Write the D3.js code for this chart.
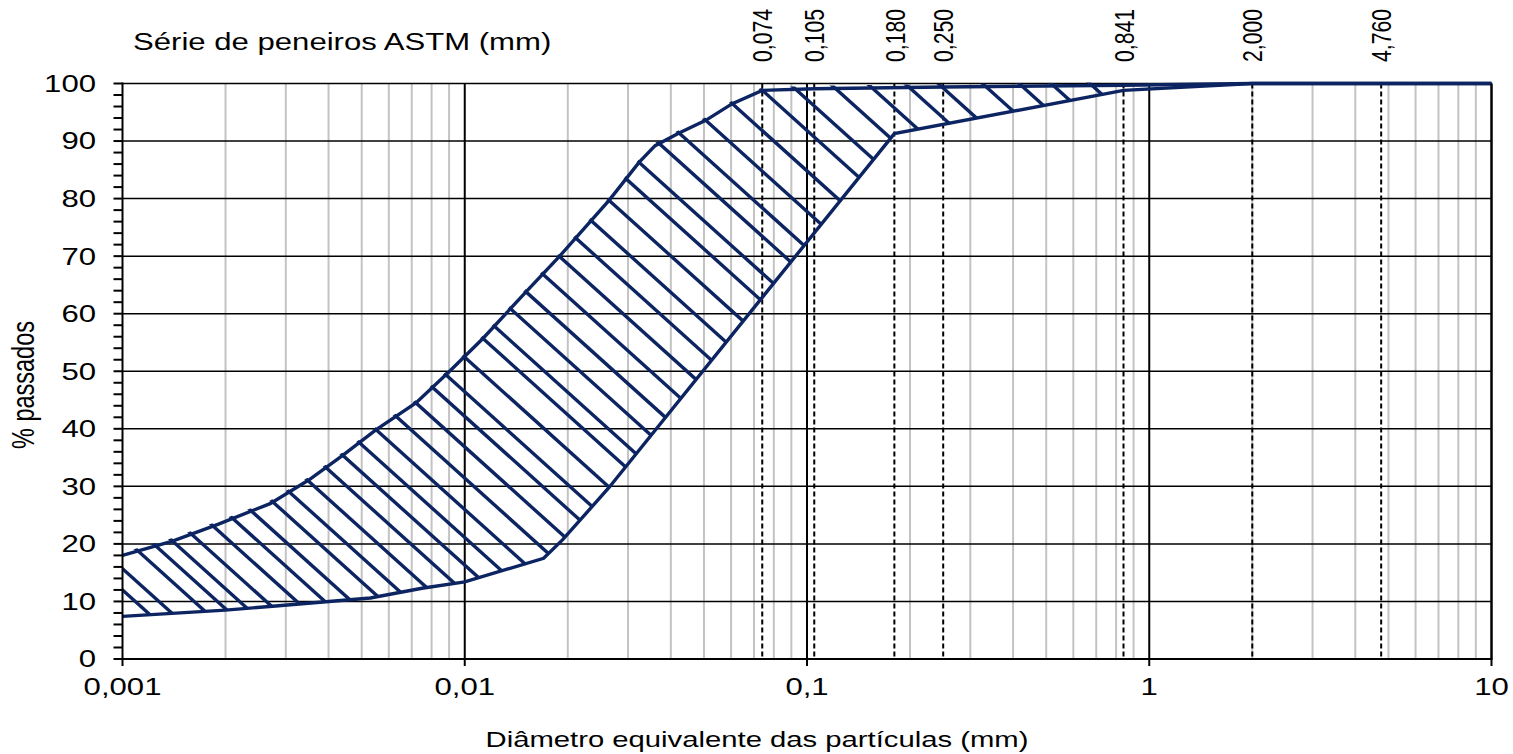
<!DOCTYPE html>
<html>
<head>
<meta charset="utf-8">
<script src="https://cdn.jsdelivr.net/npm/d3@7"></script>
<style>
  html, body { margin: 0; padding: 0; background: #fff; }
  svg { display: block; }
</style>
</head>
<body>
<svg id="chart" width="1513" height="754"></svg>
<script>
// Upper limit of the grading band: diameter (mm) and % passing
const upperX   = [0.001, 0.0014, 0.0019, 0.0027, 0.0035, 0.0044, 0.0055, 0.0072, 0.009, 0.0113, 0.0151, 0.019, 0.0264, 0.0323, 0.036, 0.0423, 0.0506, 0.0605, 0.074, 0.105, 0.25, 0.841, 2.0, 10];
const upperPct = [18.0, 20.5, 23.4, 27.0, 31.1, 35.4, 39.8, 44.5, 49.9, 55.7, 63.8, 70.1, 79.7, 86.3, 89.2, 91.4, 93.6, 96.5, 98.8, 99.1, 99.4, 99.7, 100, 100];

// Lower limit of the grading band
const lowerX   = [0.001, 0.002, 0.0028, 0.0053, 0.0075, 0.01, 0.017, 0.0193, 0.0264, 0.18, 0.841, 2.0, 10];
const lowerPct = [7.4, 8.5, 9.2, 10.6, 12.3, 13.4, 17.5, 20.7, 29.8, 91.3, 98.8, 100, 100];

// ASTM sieve openings (mm)
const sieveSizes  = [0.074, 0.105, 0.180, 0.250, 0.841, 2.000, 4.760];
const sieveLabels = ["0,074", "0,105", "0,180", "0,250", "0,841", "2,000", "4,760"];

// Axis ticks
const xTickValues = [0.001, 0.01, 0.1, 1, 10];
const xTickLabels = ["0,001", "0,01", "0,1", "1", "10"];
const yTickValues = [0, 10, 20, 30, 40, 50, 60, 70, 80, 90, 100];

// Hatching: diameters where each hatch stroke meets the upper limit,
// plus strokes that start on the left edge (% passing at 0,001 mm)
const hatchAnchors = [0.00111, 0.00125, 0.00140, 0.00159, 0.00184, 0.00210, 0.00238, 0.00275, 0.00307, 0.00348,
                      0.00393, 0.00440, 0.00492, 0.00551, 0.00630, 0.00720, 0.00805, 0.00881, 0.00997, 0.0113,
                      0.0122, 0.0136, 0.0151, 0.0169, 0.0189, 0.0211, 0.0234, 0.0264, 0.0296, 0.0323,
                      0.0370, 0.0423, 0.0506, 0.0605, 0.0741, 0.0927, 0.121, 0.155, 0.199, 0.248,
                      0.333, 0.425, 0.526, 0.681];
const hatchEdgePct = [15.7, 12.0];

const FONT = '"Liberation Sans", Arial, Helvetica, sans-serif';
const STRETCH = 1.33;          // glyphs are drawn wide
const NAVY = "#0c2461";

const svg = d3.select("#chart");

const x = d3.scaleLog().domain([0.001, 10]).range([122.5, 1491.5]);
const y = d3.scaleLinear().domain([0, 100]).range([659, 83.5]);
const [xL, xR] = x.range();
const [yB, yT] = y.range();

// piecewise interpolation of the upper limit (log diameter)
const upperAt = d3.scaleLog().domain(upperX).range(upperPct);

// ---------- grid ----------
const grid = svg.append("g");

// minor verticals (2..9 in each decade)
const minorX = [];
[0.001, 0.01, 0.1, 1].forEach(dec => { for (let k = 2; k <= 9; k++) minorX.push(k * dec); });
grid.selectAll("line.minor").data(minorX).join("line")
  .attr("x1", d => x(d)).attr("x2", d => x(d))
  .attr("y1", yT).attr("y2", yB)
  .attr("stroke", "#c3c3c3").attr("stroke-width", 2);

// horizontal gridlines
grid.selectAll("line.h").data(yTickValues.filter(v => v > 0)).join("line")
  .attr("x1", xL).attr("x2", xR)
  .attr("y1", d => y(d)).attr("y2", d => y(d))
  .attr("stroke", "#000").attr("stroke-width", 1.5);

// decade verticals
grid.selectAll("line.major").data(xTickValues.slice(1)).join("line")
  .attr("x1", d => x(d)).attr("x2", d => x(d))
  .attr("y1", yT).attr("y2", yB)
  .attr("stroke", "#000").attr("stroke-width", 2);

// sieve openings (dashed)
grid.selectAll("line.sieve").data(sieveSizes).join("line")
  .attr("x1", d => x(d)).attr("x2", d => x(d))
  .attr("y1", yT).attr("y2", yB)
  .attr("stroke", "#000").attr("stroke-width", 2)
  .attr("stroke-dasharray", "5,3");

// ---------- hatching ----------
const upperPts = upperX.map((v, i) => [x(v), y(upperPct[i])]);
const lowerPts = lowerX.map((v, i) => [x(v), y(lowerPct[i])]);

// strokes poke slightly above the upper limit
const clipPoly = upperPts.map(p => [p[0], p[1] - 3]).concat(lowerPts.slice().reverse());
svg.append("clipPath").attr("id", "band")
  .append("path").attr("d", "M" + clipPoly.map(p => p.join(",")).join("L") + "Z");

const ang = 42 * Math.PI / 180;
const dx = Math.cos(ang), dy = Math.sin(ang), L = 700;
const hatchPts = hatchAnchors.map(v => [x(v), y(upperAt(v))])
  .concat(hatchEdgePct.map(p => [xL, y(p)]));

svg.append("g").attr("clip-path", "url(#band)")
  .selectAll("line").data(hatchPts).join("line")
  .attr("x1", p => p[0] - dx * L).attr("y1", p => p[1] - dy * L)
  .attr("x2", p => p[0] + dx * L).attr("y2", p => p[1] + dy * L)
  .attr("stroke", NAVY).attr("stroke-width", 3.4);

// ---------- band limits ----------
const line = d3.line().x(d => x(d[0])).y(d => y(d[1]));
svg.append("path")
  .attr("d", line(upperX.map((v, i) => [v, upperPct[i]])))
  .attr("fill", "none").attr("stroke", NAVY).attr("stroke-width", 3.4)
  .attr("stroke-linejoin", "miter");
svg.append("path")
  .attr("d", line(lowerX.map((v, i) => [v, lowerPct[i]])))
  .attr("fill", "none").attr("stroke", NAVY).attr("stroke-width", 3.4)
  .attr("stroke-linejoin", "miter");

// ---------- axes ----------
const axes = svg.append("g");
axes.append("line").attr("x1", xL).attr("x2", xL).attr("y1", yT - 1).attr("y2", yB + 1)
  .attr("stroke", "#000").attr("stroke-width", 2);
axes.append("line").attr("x1", xR).attr("x2", xR).attr("y1", yT).attr("y2", yB)
  .attr("stroke", "#000").attr("stroke-width", 2);
axes.append("line").attr("x1", xL - 1).attr("x2", xR + 1).attr("y1", yB).attr("y2", yB)
  .attr("stroke", "#000").attr("stroke-width", 2);

// y ticks every 2 %
axes.selectAll("line.yt").data(d3.range(0, 101, 2)).join("line")
  .attr("x1", xL - 9).attr("x2", xL)
  .attr("y1", d => y(d)).attr("y2", d => y(d))
  .attr("stroke", "#000").attr("stroke-width", 2);

// x ticks at decades
axes.selectAll("line.xt").data(xTickValues).join("line")
  .attr("x1", d => x(d)).attr("x2", d => x(d))
  .attr("y1", yB).attr("y2", yB + 7)
  .attr("stroke", "#000").attr("stroke-width", 2);

// ---------- text ----------
function txt(str, tx, ty, size, anchor, rotated, dyEm) {
  const t = svg.append("text")
    .attr("transform", `translate(${tx},${ty}) scale(${STRETCH},1)` + (rotated ? " rotate(-90)" : ""))
    .attr("text-anchor", anchor)
    .attr("font-family", FONT)
    .attr("font-size", size)
    .attr("fill", "#000")
    .text(str);
  if (dyEm) t.attr("dy", dyEm + "em");
  return t;
}

yTickValues.forEach(v => txt(String(v), 96, y(v) + 8.4, 23.4, "end"));
xTickValues.forEach((v, i) => txt(xTickLabels[i], x(v), 695, 23.4, "middle"));

sieveSizes.forEach((s, i) => txt(sieveLabels[i], x(s), 62, 21.2, "start", true, 0.36));

txt("Série de peneiros ASTM (mm)", 133, 50, 23.4, "start");
txt("Diâmetro equivalente das partículas (mm)", 757, 747, 22, "middle");
txt("% passados", 34, 385, 23.5, "middle", true);
</script>
</body>
</html>
